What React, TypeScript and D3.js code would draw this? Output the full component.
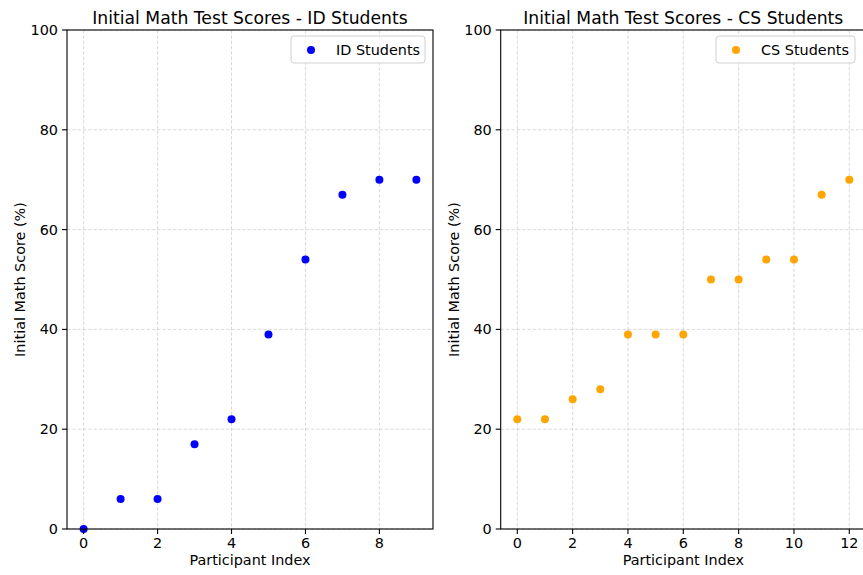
import React, { useRef, useEffect } from 'react';
import * as d3 from 'd3';

const idScores = [0, 6, 6, 17, 22, 39, 54, 67, 70, 70];
const csScores = [22, 22, 26, 28, 39, 39, 39, 50, 50, 54, 54, 67, 70];
const yTicks = [0, 20, 40, 60, 80, 100];
const idTicks = [0, 2, 4, 6, 8];
const csTicks = [0, 2, 4, 6, 8, 10, 12];

const W = 863;
const H = 575;
const FONT = 'DejaVu Sans, sans-serif';
const FS = 14.4;

type Panel = {
  scores: number[];
  ticks: number[];
  title: string;
  label: string;
  color: string;
  left: number;
  right: number;
  legendW: number;
};

const panels: Panel[] = [
  { scores: idScores, ticks: idTicks, title: 'Initial Math Test Scores - ID Students', label: 'ID Students', color: '#0000ff', left: 67, right: 433, legendW: 134 },
  { scores: csScores, ticks: csTicks, title: 'Initial Math Test Scores - CS Students', label: 'CS Students', color: '#ffa500', left: 500.7, right: 865.9, legendW: 139 },
];

const App = () => {
  const svgRef = useRef<SVGSVGElement>(null);

  useEffect(() => {
    const svg = d3.select(svgRef.current);
    svg.selectAll('*').remove();

    const top = 30;
    const bottom = 529;

    panels.forEach((p, pi) => {
      const n = p.scores.length - 1;
      const pad = n * 0.05;
      const x = d3.scaleLinear().domain([-pad, n + pad]).range([p.left, p.right]);
      const y = d3.scaleLinear().domain([0, 100]).range([bottom, top]);

      const clipId = `clip-${pi}`;
      svg.append('clipPath').attr('id', clipId)
        .append('rect').attr('x', p.left).attr('y', top - 5).attr('width', p.right - p.left).attr('height', bottom - top + 10);

      const g = svg.append('g');

      // grid
      g.selectAll('.gx').data(p.ticks).enter().append('line')
        .attr('x1', d => x(d)).attr('x2', d => x(d)).attr('y1', top).attr('y2', bottom)
        .attr('stroke', '#b0b0b0').attr('stroke-opacity', 0.6).attr('stroke-width', 0.8)
        .attr('stroke-dasharray', '3.5,1.8');
      g.selectAll('.gy').data(yTicks).enter().append('line')
        .attr('x1', p.left).attr('x2', p.right).attr('y1', d => y(d)).attr('y2', d => y(d))
        .attr('stroke', '#b0b0b0').attr('stroke-opacity', 0.6).attr('stroke-width', 0.8)
        .attr('stroke-dasharray', '3.5,1.8');

      // points
      g.append('g').attr('clip-path', `url(#${clipId})`)
        .selectAll('circle').data(p.scores).enter().append('circle')
        .attr('cx', (d, i) => x(i)).attr('cy', d => y(d)).attr('r', 4)
        .attr('fill', p.color);

      // spines
      g.append('rect').attr('x', p.left).attr('y', top)
        .attr('width', p.right - p.left).attr('height', bottom - top)
        .attr('fill', 'none').attr('stroke', '#000').attr('stroke-width', 1.1);

      // x ticks
      const xt = g.selectAll('.xt').data(p.ticks).enter().append('g')
        .attr('transform', d => `translate(${x(d)},${bottom})`);
      xt.append('line').attr('y2', 5).attr('stroke', '#000').attr('stroke-width', 1.1);
      xt.append('text').attr('y', 19).attr('text-anchor', 'middle')
        .attr('font-family', FONT).attr('font-size', FS).attr('fill', '#000')
        .text(d => d);

      // y ticks
      const yt = g.selectAll('.yt').data(yTicks).enter().append('g')
        .attr('transform', d => `translate(${p.left},${y(d)})`);
      yt.append('line').attr('x2', -5).attr('stroke', '#000').attr('stroke-width', 1.1);
      yt.append('text').attr('x', -9).attr('dy', '0.35em').attr('text-anchor', 'end')
        .attr('font-family', FONT).attr('font-size', FS).attr('fill', '#000')
        .text(d => d);

      // labels
      g.append('text').attr('x', (p.left + p.right) / 2).attr('y', 565)
        .attr('text-anchor', 'middle').attr('font-family', FONT).attr('font-size', FS)
        .text('Participant Index');
      g.append('text')
        .attr('transform', `translate(${p.left - 42},${(top + bottom) / 2}) rotate(-90)`)
        .attr('text-anchor', 'middle').attr('font-family', FONT).attr('font-size', FS)
        .text('Initial Math Score (%)');
      g.append('text').attr('x', (p.left + p.right) / 2).attr('y', 24)
        .attr('text-anchor', 'middle').attr('font-family', FONT).attr('font-size', 17.2)
        .text(p.title);

      // legend
      const lx = Math.min(p.right, W) - 8 - p.legendW;
      const lg = g.append('g').attr('transform', `translate(${lx},36)`);
      lg.append('rect').attr('width', p.legendW).attr('height', 27).attr('rx', 3)
        .attr('fill', '#fff').attr('fill-opacity', 0.8).attr('stroke', '#d0d0d0');
      lg.append('circle').attr('cx', 20).attr('cy', 14).attr('r', 4).attr('fill', p.color);
      lg.append('text').attr('x', 45).attr('y', 14).attr('dy', '0.35em')
        .attr('font-family', FONT).attr('font-size', FS).text(p.label);
    });
  }, []);

  return (
    <svg ref={svgRef} width={W} height={H}
      style={{ position: 'absolute', left: 0, top: 0, background: '#fff' }} />
  );
};

export default App;
